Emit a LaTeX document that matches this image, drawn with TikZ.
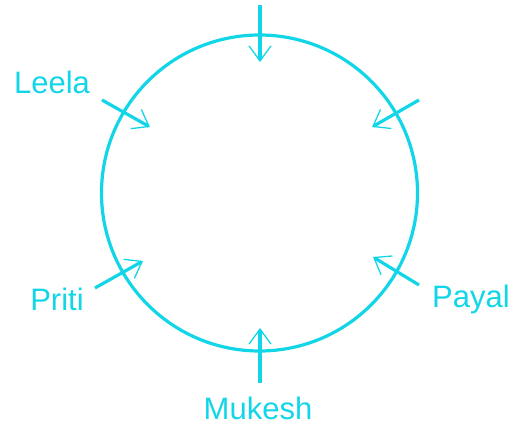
\documentclass[tikz,border=0pt]{standalone}
\usepackage{fontspec}
\setmainfont{Liberation Sans}
\usetikzlibrary{arrows.meta}
\definecolor{cy}{RGB}{18,214,232}
\begin{document}
\begin{tikzpicture}[x=1pt,y=-1pt,
  ring/.style={draw=cy,line width=3.2pt,circle,minimum size=316pt,inner sep=0pt},
  inarrow/.style={draw=cy,line width=3.2pt,-{Straight Barb[length=15pt,width=22pt,line width=1.3pt]}},
  lbl/.style={text=cy,font=\fontsize{31}{31}\selectfont,inner sep=0pt}]
\useasboundingbox (0,0) rectangle (514,427);
\node[ring] (c) at (259.5,193) {};
\coordinate (t1) at (260,5);   \coordinate (t2) at (260,62);
\coordinate (l1) at (102,100); \coordinate (l2) at (150,127);
\coordinate (r1) at (419,100); \coordinate (r2) at (372,127);
\coordinate (p1) at (95,288);  \coordinate (p2) at (143,261);
\coordinate (y1) at (419,285); \coordinate (y2) at (373,257);
\coordinate (m1) at (260,383); \coordinate (m2) at (260,328);
\draw[inarrow] (t1) -- (t2);
\draw[inarrow] (l1) -- (l2);
\draw[inarrow] (r1) -- (r2);
\draw[inarrow] (p1) -- (p2);
\draw[inarrow] (y1) -- (y2);
\draw[inarrow] (m1) -- (m2);
\node[lbl] (leela) at (52,82) {Leela};
\node[lbl] (priti) at (57,299) {Priti};
\node[lbl] (payal) at (471,299) {Payal};
\node[lbl] (mukesh) at (258,408) {Mukesh};
\end{tikzpicture}
\end{document}
